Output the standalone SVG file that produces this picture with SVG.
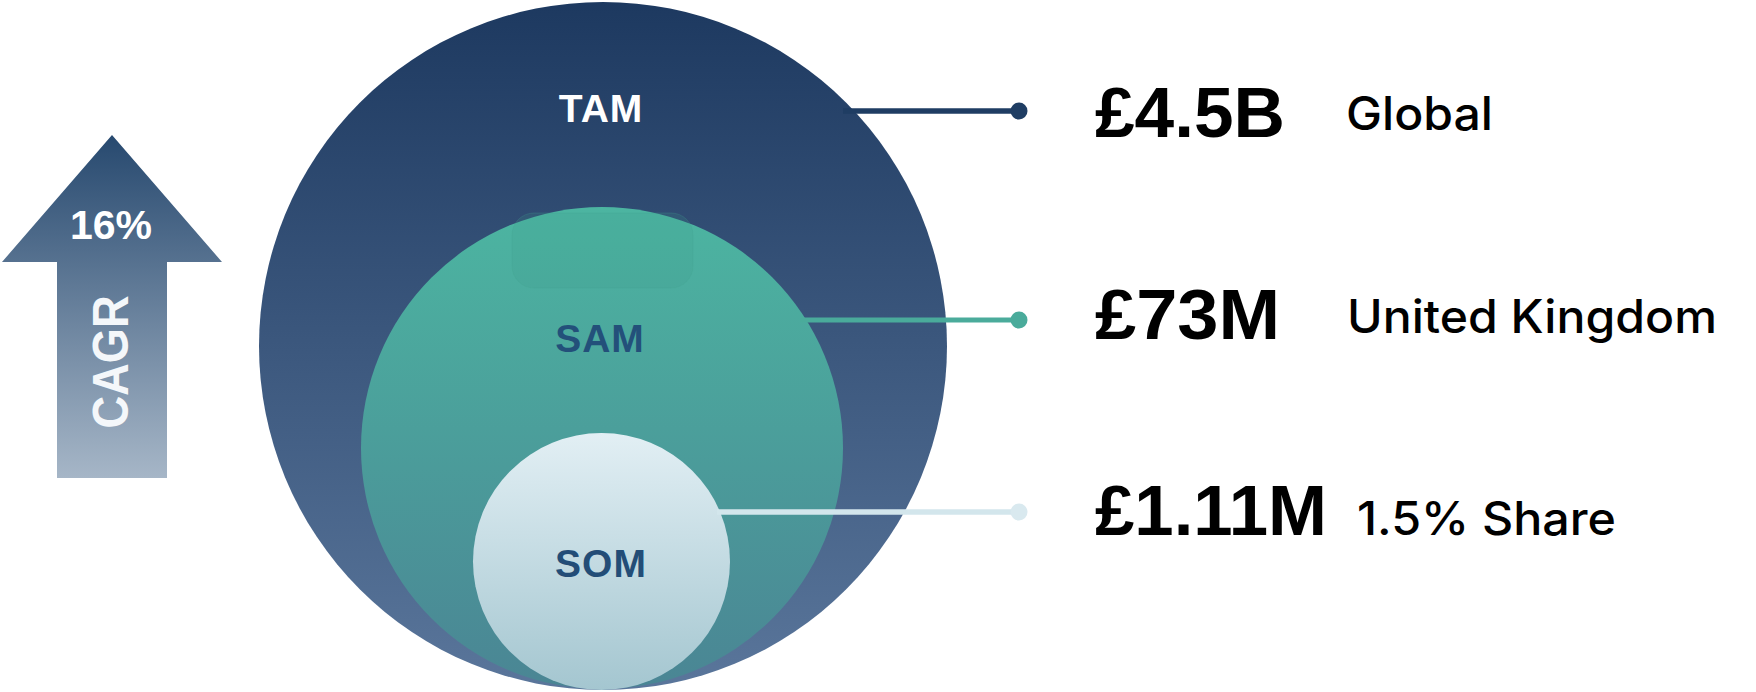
<svg xmlns="http://www.w3.org/2000/svg" width="1756" height="692" viewBox="0 0 1756 692">
  <defs>
    <linearGradient id="gTam" x1="0" y1="0" x2="0" y2="1">
      <stop offset="0" stop-color="#1d3960"/>
      <stop offset="1" stop-color="#5a769b"/>
    </linearGradient>
    <linearGradient id="gSam" x1="0" y1="0" x2="0" y2="1">
      <stop offset="0" stop-color="#4cb5a1"/>
      <stop offset="1" stop-color="#4a8594"/>
    </linearGradient>
    <linearGradient id="gSom" x1="0" y1="0" x2="0" y2="1">
      <stop offset="0" stop-color="#e2eff4"/>
      <stop offset="1" stop-color="#a4c6d0"/>
    </linearGradient>
    <linearGradient id="gArrow" x1="0" y1="0" x2="0" y2="1">
      <stop offset="0" stop-color="#27496f"/>
      <stop offset="1" stop-color="#a6b6c7"/>
    </linearGradient>
  </defs>
  <style>
    .circLabel { font-family: "Liberation Sans", Arial, sans-serif; font-weight: bold; font-size: 39px; text-anchor: middle; letter-spacing: 1px; }
    .value { font-family: "Liberation Sans", Arial, sans-serif; font-weight: bold; font-size: 70px; fill: #000; }
    .desc { font-family: Inter, "Liberation Sans", sans-serif; font-weight: 500; font-size: 46px; fill: #000; }
  </style>

  <g id="cagr-arrow">
    <polygon points="112,135 222,262 167,262 167,478 57,478 57,262 2,262" fill="url(#gArrow)"/>
    <text x="111" y="239" font-family="Liberation Sans, Arial, sans-serif" font-weight="bold" font-size="41" fill="#ffffff" text-anchor="middle">16%</text>
    <text transform="translate(128,362) rotate(-90)" x="0" y="0" font-family="Liberation Sans, Arial, sans-serif" font-weight="bold" font-size="50" fill="#f4f7fa" text-anchor="middle" textLength="133" lengthAdjust="spacingAndGlyphs">CAGR</text>
  </g>

  <g id="tam">
    <circle cx="603" cy="346" r="344" fill="url(#gTam)"/>
    <text class="circLabel" x="601" y="122" fill="#ffffff">TAM</text>
  </g>

  <g id="sam">
    <circle cx="602" cy="448" r="241" fill="url(#gSam)"/>
    <rect x="512" y="213" width="181" height="75" rx="22" fill="#3f9c8c" fill-opacity="0.18" stroke="#44a290" stroke-opacity="0.25" stroke-width="1"/>
    <text class="circLabel" x="600" y="352" fill="#23507a">SAM</text>
  </g>

  <g id="som">
    <circle cx="601.5" cy="561.5" r="128.5" fill="url(#gSom)"/>
    <text class="circLabel" x="601" y="577" fill="#234d77">SOM</text>
  </g>

  <g id="connectors">
    <line x1="843" y1="111" x2="1019" y2="111" stroke="#1f3d63" stroke-width="5.5"/>
    <circle cx="1019" cy="111" r="8.5" fill="#1f3d63"/>
    <line x1="800" y1="320" x2="1019" y2="320" stroke="#4aab9b" stroke-width="5"/>
    <circle cx="1019" cy="320" r="8.5" fill="#4aab9b"/>
    <line x1="717" y1="512" x2="1019" y2="512" stroke="#d3e6ec" stroke-width="5.5"/>
    <circle cx="1019" cy="512" r="8.5" fill="#d9e9ef"/>
  </g>

  <g id="label-tam">
    <text class="value" x="1095" y="137" textLength="190" lengthAdjust="spacingAndGlyphs">£4.5B</text>
    <text class="desc" x="1346" y="130" textLength="147" lengthAdjust="spacingAndGlyphs">Global</text>
  </g>
  <g id="label-sam">
    <text class="value" x="1095" y="339" textLength="185" lengthAdjust="spacingAndGlyphs">£73M</text>
    <text class="desc" x="1347" y="333" textLength="370" lengthAdjust="spacingAndGlyphs">United Kingdom</text>
  </g>
  <g id="label-som">
    <text class="value" x="1095" y="535" textLength="232" lengthAdjust="spacingAndGlyphs">£1.11M</text>
    <text class="desc" x="1357" y="535" textLength="259" lengthAdjust="spacingAndGlyphs">1.5% Share</text>
  </g>
</svg>
